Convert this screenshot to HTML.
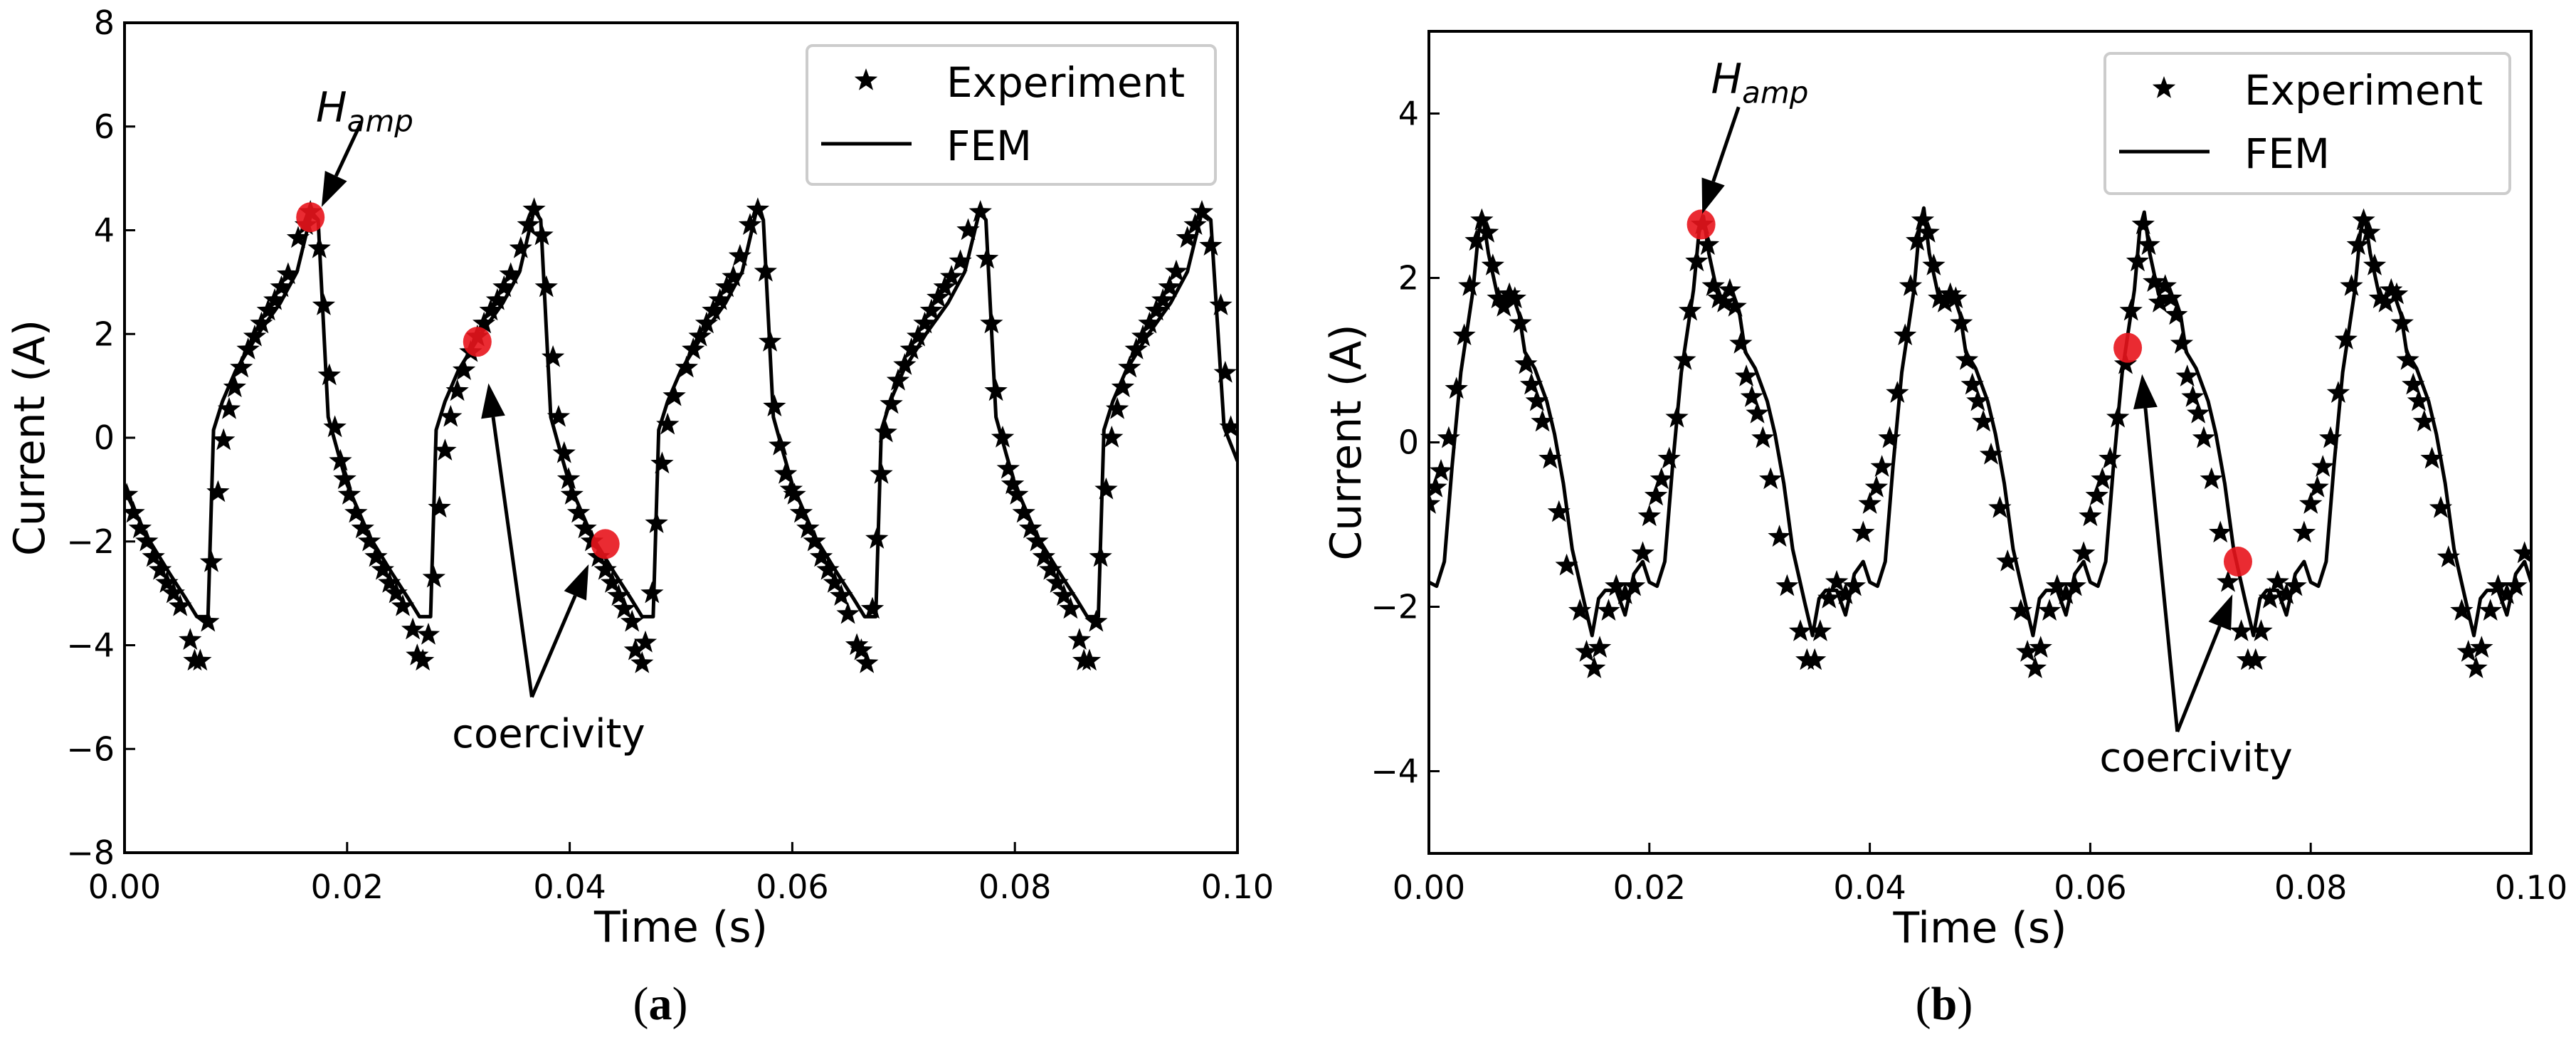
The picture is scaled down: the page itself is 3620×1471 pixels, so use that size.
<!DOCTYPE html>
<html><head><meta charset="utf-8"><style>
html,body{margin:0;padding:0;background:#fff;}
svg{display:block;}
text{font-family:"DejaVu Sans","Liberation Sans",sans-serif;fill:#000;}
</style></head><body>
<svg id="fig" width="3620" height="1471" viewBox="0 0 3620 1471" xmlns="http://www.w3.org/2000/svg"></svg>
<script>
// ---------- Panel (a) data ----------
const leftXTicks = [0, 0.02, 0.04, 0.06, 0.08, 0.10];
const leftXTickLabels = ["0.00","0.02","0.04","0.06","0.08","0.10"];
const leftYTicks = [-8,-6,-4,-2,0,2,4,6,8];
const leftYTickLabels = ["\u22128","\u22126","\u22124","\u22122","0","2","4","6","8"];
const leftFem = [
[0,-1.0],[0.002,-1.9],[0.004,-2.6],[0.0055,-3.1],[0.0065,-3.45],[0.0075,-3.45],[0.008,0.15],[0.0088,0.7],[0.010,1.3],[0.012,2.0],[0.014,2.6],[0.0155,3.2],[0.0168,4.35],[0.0174,4.2],[0.0183,0.4],[0.0192,-0.3],
[0.020,-0.9],[0.022,-1.9],[0.024,-2.6],[0.0255,-3.1],[0.0265,-3.45],[0.0275,-3.45],[0.028,0.15],[0.0288,0.7],[0.030,1.3],[0.032,2.0],[0.034,2.6],[0.0355,3.2],[0.0368,4.4],[0.0374,4.2],[0.0383,0.4],[0.0392,-0.3],
[0.040,-0.9],[0.042,-1.9],[0.044,-2.6],[0.0455,-3.1],[0.0465,-3.45],[0.0475,-3.45],[0.048,0.15],[0.0488,0.7],[0.050,1.3],[0.052,2.0],[0.054,2.6],[0.0555,3.2],[0.0568,4.4],[0.0574,4.2],[0.0583,0.4],[0.0592,-0.3],
[0.060,-0.9],[0.062,-1.9],[0.064,-2.6],[0.0655,-3.1],[0.0665,-3.45],[0.0675,-3.45],[0.068,0.15],[0.0688,0.7],[0.070,1.3],[0.072,2.0],[0.074,2.6],[0.0755,3.2],[0.0768,4.35],[0.0774,4.2],[0.0783,0.4],[0.0792,-0.3],
[0.080,-0.9],[0.082,-1.9],[0.084,-2.6],[0.0855,-3.1],[0.0865,-3.45],[0.0875,-3.45],[0.088,0.15],[0.0888,0.7],[0.090,1.3],[0.092,2.0],[0.094,2.6],[0.0955,3.2],[0.0968,4.35],[0.0976,4.2],[0.0988,0.2],[0.1,-0.45]
];
const leftExp = [
[.0002,-1.1],[.0008,-1.45],[.0014,-1.75],[.002,-2.0],[.0026,-2.3],[.0032,-2.55],[.0038,-2.8],[.0044,-3.0],[.005,-3.25],[.0059,-3.9],[.0063,-4.3],[.0068,-4.3],[.0075,-3.55],[.0078,-2.4],[.0084,-1.05],[.0089,-0.05],[.0094,0.55],[.0099,0.97],[.0105,1.35],[.0111,1.7],[.0117,1.95],[.0123,2.2],[.0129,2.45],[.0135,2.65],[.0141,2.9],[.0147,3.15],[.0156,3.85],[.0163,4.1],[.0167,4.35],[.0175,3.65],[.0179,2.55],[.0184,1.2],[.0189,0.2],[.0194,-0.45],[.0198,-0.8],
[.0202,-1.1],[.0208,-1.45],[.0214,-1.75],[.022,-2.0],[.0226,-2.3],[.0232,-2.55],[.0238,-2.8],[.0244,-3.0],[.025,-3.25],[.0259,-3.7],[.0263,-4.2],[.0268,-4.3],[.0273,-3.8],[.0278,-2.7],[.0283,-1.35],[.0288,-0.25],[.0293,0.4],[.0299,0.9],[.0305,1.3],[.0311,1.65],[.0317,1.95],[.0323,2.2],[.0329,2.45],[.0335,2.65],[.0341,2.9],[.0347,3.15],[.0356,3.65],[.0363,4.1],[.0368,4.4],[.0375,3.9],[.0379,2.9],[.0385,1.55],[.039,0.4],[.0395,-0.3],[.0399,-0.8],
[.0402,-1.1],[.0408,-1.45],[.0414,-1.75],[.042,-2.0],[.0426,-2.3],[.0432,-2.55],[.0438,-2.8],[.0444,-3.05],[.0449,-3.3],[.0456,-3.55],[.0459,-4.1],[.0465,-4.35],[.0468,-3.95],[.0474,-3.0],[.0478,-1.65],[.0483,-0.5],[.0488,0.25],[.0494,0.8],[.0505,1.35],[.0511,1.7],[.0517,1.95],[.0523,2.2],[.0529,2.45],[.0535,2.65],[.0541,2.9],[.0547,3.1],[.0553,3.5],[.0562,4.1],[.0569,4.4],[.0576,3.2],[.058,1.85],[.0584,0.6],[.0589,-0.15],[.0594,-0.7],[.0599,-1.0],
[.0602,-1.1],[.0608,-1.45],[.0614,-1.75],[.062,-2.0],[.0626,-2.3],[.0632,-2.55],[.0638,-2.8],[.0644,-3.05],[.065,-3.4],[.0658,-4.0],[.0662,-4.1],[.0667,-4.35],[.0672,-3.3],[.0676,-1.95],[.068,-0.7],[.0684,0.1],[.0689,0.65],[.0695,1.1],[.0701,1.4],[.0707,1.7],[.0713,1.95],[.0719,2.2],[.0725,2.45],[.0731,2.7],[.0737,2.9],[.0743,3.1],[.0751,3.4],[.0758,4.0],[.0769,4.35],[.0775,3.45],[.0779,2.2],[.0783,0.9],[.0789,0.0],[.0794,-0.6],[.0798,-0.9],
[.0802,-1.1],[.0808,-1.45],[.0814,-1.75],[.082,-2.0],[.0826,-2.3],[.0832,-2.55],[.0838,-2.8],[.0844,-3.05],[.085,-3.3],[.0858,-3.9],[.0862,-4.3],[.0867,-4.3],[.0873,-3.55],[.0877,-2.3],[.0882,-1.0],[.0887,0.0],[.0892,0.55],[.0897,0.97],[.0903,1.35],[.0909,1.7],[.0915,1.95],[.0921,2.2],[.0927,2.45],[.0933,2.65],[.0939,2.9],[.0945,3.2],[.0955,3.85],[.0962,4.1],[.0968,4.35],[.0976,3.7],[.0985,2.55],[.0989,1.25],[.0994,0.2]
];
const leftRedDots = [[0.0167,4.25],[0.0317,1.85],[0.0432,-2.05]];

// ---------- Panel (b) data ----------
const rightXTicks = [0, 0.02, 0.04, 0.06, 0.08, 0.10];
const rightXTickLabels = ["0.00","0.02","0.04","0.06","0.08","0.10"];
const rightYTicks = [-4,-2,0,2,4];
const rightYTickLabels = ["\u22124","\u22122","0","2","4"];
const rightFem = [
[0,-1.7],[0.0007,-1.75],[0.0014,-1.45],[0.0021,-0.3],[0.0029,0.85],[0.004,1.85],[0.0045,2.55],[0.0049,2.75],[0.0054,2.3],[0.0062,1.8],[0.007,1.7],[0.0077,1.75],[0.0082,1.55],[0.0087,1.1],[0.0096,0.9],[0.0107,0.5],[0.0114,0.1],[0.0122,-0.5],[0.013,-1.3],[0.0141,-1.95],[0.0148,-2.35],[0.0154,-1.9],[0.016,-1.8],[0.017,-1.8],[0.0178,-2.1],[0.0186,-1.6],[0.0194,-1.45],
[0.020,-1.7],[0.0207,-1.75],[0.0214,-1.45],[0.0221,-0.3],[0.0229,0.85],[0.024,1.85],[0.0245,2.55],[0.0249,2.75],[0.0254,2.3],[0.0262,1.8],[0.027,1.7],[0.0277,1.75],[0.0282,1.55],[0.0287,1.1],[0.0296,0.9],[0.0307,0.5],[0.0314,0.1],[0.0322,-0.5],[0.033,-1.3],[0.0341,-1.95],[0.0348,-2.35],[0.0354,-1.9],[0.036,-1.8],[0.037,-1.8],[0.0378,-2.1],[0.0386,-1.6],[0.0394,-1.45],
[0.040,-1.7],[0.0407,-1.75],[0.0414,-1.45],[0.0421,-0.3],[0.0429,0.85],[0.044,1.85],[0.0445,2.6],[0.0449,2.85],[0.0454,2.3],[0.0462,1.8],[0.047,1.7],[0.0477,1.75],[0.0482,1.55],[0.0487,1.1],[0.0496,0.9],[0.0507,0.5],[0.0514,0.1],[0.0522,-0.5],[0.053,-1.3],[0.0541,-1.95],[0.0548,-2.35],[0.0554,-1.9],[0.056,-1.8],[0.057,-1.8],[0.0578,-2.1],[0.0586,-1.6],[0.0594,-1.45],
[0.060,-1.7],[0.0607,-1.75],[0.0614,-1.45],[0.0621,-0.3],[0.0629,0.85],[0.064,1.85],[0.0645,2.6],[0.0649,2.8],[0.0654,2.3],[0.0662,1.8],[0.067,1.7],[0.0677,1.75],[0.0682,1.55],[0.0687,1.1],[0.0696,0.9],[0.0707,0.5],[0.0714,0.1],[0.0722,-0.5],[0.073,-1.3],[0.0741,-1.95],[0.0748,-2.35],[0.0754,-1.9],[0.076,-1.8],[0.077,-1.8],[0.0778,-2.1],[0.0786,-1.6],[0.0794,-1.45],
[0.080,-1.7],[0.0807,-1.75],[0.0814,-1.45],[0.0821,-0.3],[0.0829,0.85],[0.084,1.85],[0.0845,2.55],[0.0849,2.75],[0.0854,2.3],[0.0862,1.8],[0.087,1.7],[0.0877,1.75],[0.0882,1.55],[0.0887,1.1],[0.0896,0.9],[0.0907,0.5],[0.0914,0.1],[0.0922,-0.5],[0.093,-1.3],[0.0941,-1.95],[0.0948,-2.35],[0.0954,-1.9],[0.096,-1.8],[0.097,-1.8],[0.0978,-2.1],[0.0986,-1.6],[0.0994,-1.45],[0.1,-1.7]
];
const rightExp = [
[0.0,-0.75],[0.0006,-0.55],[0.0011,-0.35],[0.0018,0.05],[0.0025,0.65],[0.0032,1.3],[0.0037,1.9],[0.0043,2.45],[0.0048,2.7],[0.0053,2.55],[0.0058,2.15],[0.0063,1.75],[0.0068,1.65],[0.0073,1.8],[0.0078,1.75],[0.0083,1.45],[0.0088,0.95],[0.0093,0.7],[0.0098,0.5],[0.0103,0.25],[0.011,-0.2],[0.0118,-0.85],[0.0125,-1.5],[0.0137,-2.05],[0.0143,-2.55],[0.015,-2.75],[0.0155,-2.5],[0.0163,-2.05],[0.017,-1.75],[0.0178,-1.85],[0.0186,-1.75],[0.0194,-1.35],
[0.020,-0.9],[0.0206,-0.65],[0.0211,-0.45],[0.0218,-0.2],[0.0225,0.3],[0.0232,1.0],[0.0237,1.6],[0.0243,2.2],[0.0248,2.65],[0.0253,2.4],[0.0258,1.9],[0.0263,1.75],[0.0268,1.7],[0.0273,1.85],[0.0278,1.65],[0.0283,1.2],[0.0288,0.8],[0.0293,0.55],[0.0298,0.35],[0.0303,0.05],[0.031,-0.45],[0.0318,-1.15],[0.0325,-1.75],[0.0337,-2.3],[0.0343,-2.65],[0.035,-2.65],[0.0355,-2.3],[0.0363,-1.9],[0.037,-1.7],[0.0378,-1.85],[0.0386,-1.75],[0.0394,-1.1],
[0.040,-0.75],[0.0406,-0.55],[0.0411,-0.3],[0.0418,0.05],[0.0425,0.6],[0.0432,1.3],[0.0437,1.9],[0.0443,2.45],[0.0448,2.7],[0.0453,2.55],[0.0458,2.15],[0.0463,1.75],[0.0468,1.7],[0.0473,1.8],[0.0478,1.75],[0.0483,1.45],[0.0488,1.0],[0.0493,0.7],[0.0498,0.5],[0.0503,0.25],[0.051,-0.15],[0.0518,-0.8],[0.0525,-1.45],[0.0537,-2.05],[0.0543,-2.55],[0.055,-2.75],[0.0555,-2.5],[0.0563,-2.05],[0.057,-1.75],[0.0578,-1.85],[0.0586,-1.75],[0.0594,-1.35],
[0.060,-0.9],[0.0606,-0.65],[0.0611,-0.45],[0.0618,-0.2],[0.0625,0.3],[0.0632,0.95],[0.0637,1.6],[0.0643,2.2],[0.0648,2.65],[0.0653,2.4],[0.0658,1.95],[0.0663,1.7],[0.0668,1.9],[0.0673,1.75],[0.0678,1.55],[0.0683,1.2],[0.0688,0.8],[0.0693,0.55],[0.0698,0.35],[0.0703,0.05],[0.071,-0.45],[0.0718,-1.1],[0.0725,-1.7],[0.0737,-2.3],[0.0743,-2.65],[0.075,-2.65],[0.0755,-2.3],[0.0763,-1.9],[0.077,-1.7],[0.0778,-1.85],[0.0786,-1.75],[0.0794,-1.1],
[0.080,-0.75],[0.0806,-0.55],[0.0811,-0.3],[0.0818,0.05],[0.0825,0.6],[0.0832,1.25],[0.0837,1.9],[0.0843,2.4],[0.0848,2.7],[0.0853,2.55],[0.0858,2.15],[0.0863,1.75],[0.0868,1.7],[0.0873,1.85],[0.0878,1.8],[0.0883,1.45],[0.0888,1.0],[0.0893,0.7],[0.0898,0.5],[0.0903,0.25],[0.091,-0.2],[0.0918,-0.8],[0.0925,-1.4],[0.0937,-2.05],[0.0943,-2.55],[0.095,-2.75],[0.0955,-2.5],[0.0963,-2.05],[0.097,-1.75],[0.0978,-1.85],[0.0986,-1.75],[0.0994,-1.35]
];
const rightRedDots = [[0.0247,2.65],[0.0634,1.15],[0.0734,-1.45]];

const NS = "http://www.w3.org/2000/svg";
const fig = document.getElementById('fig');
function mk(tag, attrs, parent){
  const e = document.createElementNS(NS, tag);
  for (const k in attrs) e.setAttribute(k, attrs[k]);
  (parent||fig).appendChild(e);
  return e;
}
function starPts(cx, cy, R, r){
  let p = [];
  for (let i=0;i<10;i++){
    const a = -Math.PI/2 + i*Math.PI/5;
    const rad = i%2===0 ? R : r;
    p.push((cx+rad*Math.cos(a)).toFixed(1)+","+(cy+rad*Math.sin(a)).toFixed(1));
  }
  return p.join(" ");
}
function arrow(g, x1, y1, x2, y2){
  const dx=x2-x1, dy=y2-y1, L=Math.hypot(dx,dy), ux=dx/L, uy=dy/L;
  const hl=48, hw=17;
  const bx=x2-ux*hl, by=y2-uy*hl;
  const ln = mk('line',{x1:x1,y1:y1,x2:bx,y2:by,stroke:'#000','stroke-width':5},g);
  
  
  const hd = mk('polygon',{points:`${x2},${y2} ${bx-uy*hw},${by+ux*hw} ${bx+uy*hw},${by-ux*hw}`,fill:'#000'},g);
  
  
}

function panel(cfg){
  const g = mk('g',{});
  
  
  const X = t => cfg.x0 + (t - cfg.tmin)/(cfg.tmax-cfg.tmin)*(cfg.x1-cfg.x0);
  const Y = v => cfg.y0 + (cfg.vmax - v)/(cfg.vmax-cfg.vmin)*(cfg.y1-cfg.y0);

  const clipId = cfg.name+'-clip';
  const defs = mk('defs',{},g);
  const cp = mk('clipPath',{id:clipId},defs);
  mk('rect',{x:cfg.x0,y:cfg.y0,width:cfg.x1-cfg.x0,height:cfg.y1-cfg.y0},cp);

  const plot = mk('g',{'clip-path':`url(#${clipId})`},g);
  
  

  const d = cfg.fem.map((p,i)=>(i?'L':'M')+X(p[0]).toFixed(1)+','+Y(p[1]).toFixed(1)).join(' ');
  const fl = mk('path',{d:d,fill:'none',stroke:'#000','stroke-width':5,'stroke-linejoin':'round'},plot);
  
  

  cfg.exp.forEach(p=>{
    const s = mk('polygon',{points:starPts(X(p[0]),Y(p[1]),17,7),fill:'#000'},plot);
    
    
  });

  cfg.dots.forEach(p=>{
    const c = mk('ellipse',{cx:X(p[0]),cy:Y(p[1]),rx:20,ry:21,fill:'#e8141c','fill-opacity':0.9},plot);
    
    
  });

  const hx = X(cfg.hamp.tx), hy = Y(cfg.hamp.ty);
  const ht = mk('text',{x:hx,y:hy,'font-size':58,'font-style':'italic'},g);
  
  
  ht.innerHTML = 'H<tspan font-size="42" dy="14">amp</tspan>';
  arrow(g, X(cfg.hamp.a[0]), Y(cfg.hamp.a[1]), X(cfg.hamp.a[2]), Y(cfg.hamp.a[3]));

  const ct = mk('text',{x:X(cfg.coer.tx),y:Y(cfg.coer.ty),'font-size':56,'text-anchor':'middle'},g);
  
  
  ct.textContent = 'coercivity';
  arrow(g, X(cfg.coer.apex[0]), Y(cfg.coer.apex[1]), X(cfg.coer.t1[0]), Y(cfg.coer.t1[1]));
  arrow(g, X(cfg.coer.apex[0]), Y(cfg.coer.apex[1]), X(cfg.coer.t2[0]), Y(cfg.coer.t2[1]));

  const fr = mk('rect',{x:cfg.x0,y:cfg.y0,width:cfg.x1-cfg.x0,height:cfg.y1-cfg.y0,fill:'none',stroke:'#000','stroke-width':4},g);
  
  

  cfg.xt.forEach((t,i)=>{
    const x = X(t);
    const tk = mk('line',{x1:x,y1:cfg.y1,x2:x,y2:cfg.y1-15,stroke:'#000','stroke-width':3},g);
    
    
    const lb = mk('text',{x:x,y:cfg.y1+64,'font-size':46,'text-anchor':'middle'},g);
    
    
    lb.textContent = cfg.xtl[i];
  });
  cfg.yt.forEach((v,i)=>{
    const y = Y(v);
    const tk = mk('line',{x1:cfg.x0,y1:y,x2:cfg.x0+15,y2:y,stroke:'#000','stroke-width':3},g);
    
    
    const lb = mk('text',{x:cfg.x0-14,y:y+16,'font-size':46,'text-anchor':'end'},g);
    
    
    lb.textContent = cfg.ytl[i];
  });

  const xl = mk('text',{x:(cfg.x0+cfg.x1)/2,y:cfg.y1+125,'font-size':60,'text-anchor':'middle'},g);
  
  
  xl.textContent = 'Time (s)';
  const yl = mk('text',{x:0,y:0,'font-size':60,'text-anchor':'middle',transform:`translate(${cfg.ylx},${(cfg.y0+cfg.y1)/2}) rotate(-90)`},g);
  
  
  yl.textContent = 'Current (A)';

  const L = cfg.leg;
  const lg = mk('g',{},g);
  
  
  mk('rect',{x:L.x,y:L.y,width:L.w,height:L.h,rx:8,fill:'#fff',stroke:'#cccccc','stroke-width':4},lg);
  const ls = mk('polygon',{points:starPts(L.x+83,L.y+49,17,7),fill:'#000'},lg);
  
  
  const t1 = mk('text',{x:L.x+196,y:L.y+72,'font-size':58},lg);
  
  
  t1.textContent = 'Experiment';
  const ll = mk('line',{x1:L.x+20,y1:L.y+138,x2:L.x+147,y2:L.y+138,stroke:'#000','stroke-width':5},lg);
  
  
  const t2 = mk('text',{x:L.x+196,y:L.y+161,'font-size':58},lg);
  
  
  t2.textContent = 'FEM';

  const cap = mk('text',{x:cfg.capx,y:1432,'font-size':66,'text-anchor':'middle',style:'font-family:"Liberation Serif",serif;'},g);
  
  
  cap.innerHTML = '(<tspan font-weight="bold">'+cfg.cap+'</tspan>)';
}

panel({name:'panel-a', x0:175, x1:1739, y0:32, y1:1198, tmin:0, tmax:0.1, vmin:-8, vmax:8,
  fem:leftFem, exp:leftExp, dots:leftRedDots,
  xt:leftXTicks, xtl:leftXTickLabels, yt:leftYTicks, ytl:leftYTickLabels,
  hamp:{tx:0.0172, ty:6.1, a:[0.0213,6.1,0.0177,4.45]},
  coer:{tx:0.0381, ty:-5.97, apex:[0.0366,-5.0], t1:[0.0327,1.05], t2:[0.0417,-2.44]},
  leg:{x:1134,y:64,w:574,h:195}, ylx:62, capx:928, cap:'a'});

panel({name:'panel-b', x0:2008, x1:3557, y0:44, y1:1199, tmin:0, tmax:0.1, vmin:-5, vmax:5,
  fem:rightFem, exp:rightExp, dots:rightRedDots,
  xt:rightXTicks, xtl:rightXTickLabels, yt:rightYTicks, ytl:rightYTickLabels,
  hamp:{tx:0.0256, ty:4.25, a:[0.0281,4.08,0.0248,2.78]},
  coer:{tx:0.0696, ty:-4.0, apex:[0.0679,-3.52], t1:[0.0647,0.83], t2:[0.0729,-1.85]},
  leg:{x:2958,y:75,w:569,h:197}, ylx:1912, capx:2732, cap:'b'});
</script>
</body></html>
